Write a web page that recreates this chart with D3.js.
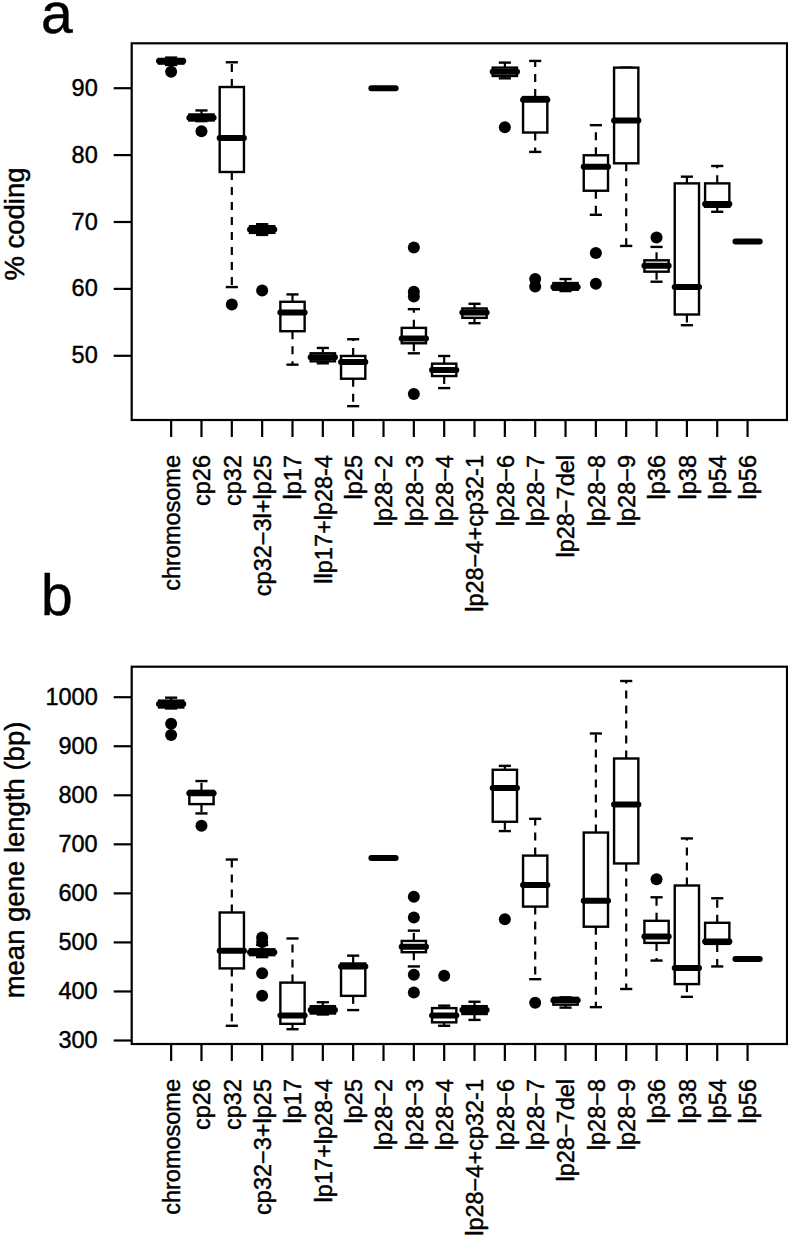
<!DOCTYPE html>
<html>
<head>
<meta charset="utf-8">
<script src="https://cdn.jsdelivr.net/npm/d3@7"></script>
<style>
  html, body { margin: 0; padding: 0; background: #fff; }
  svg { display: block; }
  text { font-family: "Liberation Sans", Arial, Helvetica, sans-serif; fill: #000; stroke: #000; stroke-width: 0.45px; }
</style>
</head>
<body>
<svg id="chart" width="788" height="1237"></svg>
<script>
// ---------- data ----------
const categoriesA = ["chromosome","cp26","cp32","cp32\u22123l+lp25","lp17","llp17+lp28-4","lp25","lp28\u22122","lp28\u22123","lp28\u22124","lp28\u22124+cp32-1","lp28\u22126","lp28\u22127","lp28\u22127del","lp28\u22128","lp28\u22129","lp36","lp38","lp54","lp56"];
const categoriesB = ["chromosome","cp26","cp32","cp32\u22123+lp25","lp17","lp17+lp28-4","lp25","lp28\u22122","lp28\u22123","lp28\u22124","lp28\u22124+cp32-1","lp28\u22126","lp28\u22127","lp28\u22127del","lp28\u22128","lp28\u22129","lp36","lp38","lp54","lp56"];

// panel a: % coding
const codingLow    = [93.4, 85.0, 60.2, 68.0, 48.6, 48.8, 42.4, 89.9, 50.3, 45.1, 54.8, 91.4, 80.4, 59.6, 71.0, 66.35, 61.0, 54.5, 71.45, 67.0];
const codingQ1     = [93.6, 85.1, 77.4, 68.3, 53.6, 49.1, 46.5, 89.9, 51.8, 46.9, 55.6, 91.75, 83.3, 59.8, 74.6, 78.7, 62.5, 56.1, 72.2, 67.0];
const codingMedian = [94.0, 85.5, 82.5, 68.8, 56.4, 49.7, 49.0, 89.9, 52.5, 47.8, 56.4, 92.4, 88.2, 60.2, 78.2, 85.1, 63.4, 60.2, 72.6, 67.0];
const codingQ3     = [94.3, 86.0, 90.1, 69.3, 58.0, 50.3, 49.9, 89.9, 54.1, 48.75, 57.0, 93.0, 88.6, 60.8, 79.9, 93.0, 64.2, 75.7, 75.7, 67.0];
const codingHigh   = [94.5, 86.6, 93.8, 69.6, 59.1, 51.1, 52.4, 89.9, 56.9, 49.9, 57.7, 93.75, 94.0, 61.4, 84.4, 93.0, 66.2, 76.7, 78.3, 67.0];
const codingOutliers = [[92.4],[83.5],[57.6],[59.7],[],[],[],[],[66.1,59.5,58.8,44.2],[],[],[84.1],[61.4,60.3],[],[65.3,60.7],[],[67.6],[],[],[]];
const codingTicks = [50, 60, 70, 80, 90];

// panel b: mean gene length (bp)
const lengthLow    = [976, 762, 329, 469, 322, 352, 361, 671, 450, 329, 341, 726, 424, 366, 367, 404, 462, 388, 450, 465];
const lengthQ1     = [978, 781, 446, 473, 333, 354, 390, 671, 479, 336, 353, 745, 572, 372, 531, 660, 498, 414, 496, 465];
const lengthMedian = [985, 803, 482, 479, 350, 361, 450, 671, 490, 350, 361, 814, 616, 381, 584, 780, 511, 447, 501, 465];
const lengthQ3     = [992, 808, 560, 485, 417, 369, 456, 671, 502, 365, 369, 851, 676, 386, 723, 874, 543, 615, 539, 465];
const lengthHigh   = [998, 828, 668, 494, 507, 377, 472, 671, 523, 370, 378, 859, 751, 387, 925, 1032, 591, 711, 589, 465];
const lengthOutliers = [[945,922],[737],[],[509,500,436,390],[],[],[],[],[592,550,433,397],[431],[],[546],[376],[],[],[],[628],[],[],[]];
const lengthTicks = [300, 400, 500, 600, 700, 800, 900, 1000];

// ---------- drawing ----------
const svg = d3.select("#chart");
svg.append("rect").attr("width", 788).attr("height", 1237).attr("fill", "#fff");

const LEFT = 131.7, RIGHT = 787;
const TICK_FS = 23.5, TITLE_FS = 27.5;

function drawPanel(cfg) {
  const n = cfg.categories.length;
  const x = d3.scaleLinear().domain([1 - 0.5 - 0.04 * n, n + 0.5 + 0.04 * n]).range([LEFT, RIGHT]);
  const y = d3.scaleLinear().domain(cfg.tickDomain).range(cfg.tickRange);
  const g = svg.append("g");
  const unit = x(2) - x(1);
  const bw = unit * 0.8;
  const capW = bw * 0.5;

  // boxes
  cfg.categories.forEach((c, i) => {
    const cx = x(i + 1);
    const lo = cfg.low[i], q1 = cfg.q1[i], md = cfg.med[i], q3 = cfg.q3[i], hi = cfg.high[i];
    const bg = g.append("g");
    // whiskers (dashed)
    bg.append("line").attr("x1", cx).attr("x2", cx).attr("y1", y(q3)).attr("y2", y(hi))
      .attr("stroke", "#000").attr("stroke-width", 2.2).attr("stroke-dasharray", "8,7");
    bg.append("line").attr("x1", cx).attr("x2", cx).attr("y1", y(q1)).attr("y2", y(lo))
      .attr("stroke", "#000").attr("stroke-width", 2.2).attr("stroke-dasharray", "8,7");
    // staples
    [lo, hi].forEach(v => {
      bg.append("line").attr("x1", cx - capW / 2).attr("x2", cx + capW / 2).attr("y1", y(v)).attr("y2", y(v))
        .attr("stroke", "#000").attr("stroke-width", 2.4);
    });
    // box
    bg.append("rect").attr("x", cx - bw / 2).attr("width", bw)
      .attr("y", y(q3)).attr("height", Math.max(0, y(q1) - y(q3)))
      .attr("fill", "#fff").attr("stroke", "#000").attr("stroke-width", 2.4);
    // median
    bg.append("line").attr("x1", cx - bw / 2).attr("x2", cx + bw / 2).attr("y1", y(md)).attr("y2", y(md))
      .attr("stroke", "#000").attr("stroke-width", 6).attr("stroke-linecap", "round");
    // outliers
    cfg.outliers[i].forEach(v => {
      bg.append("circle").attr("cx", cx).attr("cy", y(v)).attr("r", 6).attr("fill", "#000");
    });
  });

  // frame
  g.append("rect").attr("x", LEFT).attr("y", cfg.top).attr("width", RIGHT - LEFT).attr("height", cfg.bottom - cfg.top)
    .attr("fill", "none").attr("stroke", "#000").attr("stroke-width", 2.2);

  // y axis
  const yAxis = d3.axisLeft(y).tickValues(cfg.ticks).tickSize(18).tickPadding(16).tickFormat(d3.format("d"));
  const ya = g.append("g").attr("transform", `translate(${LEFT},0)`).call(yAxis);
  ya.select(".domain").remove();
  ya.selectAll(".tick line").attr("stroke", "#000").attr("stroke-width", 2.2);
  ya.selectAll(".tick text").attr("font-size", TICK_FS).attr("font-family", "Liberation Sans, Arial, sans-serif").attr("fill", "#000");

  // x axis ticks
  const xa = g.append("g");
  cfg.categories.forEach((c, i) => {
    const cx = x(i + 1);
    xa.append("line").attr("x1", cx).attr("x2", cx).attr("y1", cfg.bottom).attr("y2", cfg.bottom + 17)
      .attr("stroke", "#000").attr("stroke-width", 2.2);
    xa.append("text")
      .attr("transform", `translate(${cx},${cfg.bottom + 35}) rotate(-90)`)
      .attr("text-anchor", "end").attr("dy", "0.37em")
      .attr("font-size", TICK_FS).text(c);
  });

  // y title
  g.append("text")
    .attr("transform", `translate(24,${cfg.titleY}) rotate(-90)`)
    .attr("text-anchor", "middle").attr("font-size", TITLE_FS).text(cfg.title);

  // panel letter
  g.append("text").attr("x", 41).attr("y", cfg.letterY).attr("font-size", 57).text(cfg.letter);
}

drawPanel({
  categories: categoriesA, low: codingLow, q1: codingQ1, med: codingMedian, q3: codingQ3, high: codingHigh,
  outliers: codingOutliers, ticks: codingTicks,
  tickDomain: [50, 90], tickRange: [355.3, 87.7],
  top: 43.3, bottom: 420, title: "% coding", titleY: 224, letter: "a", letterY: 32.5
});

drawPanel({
  categories: categoriesB, low: lengthLow, q1: lengthQ1, med: lengthMedian, q3: lengthQ3, high: lengthHigh,
  outliers: lengthOutliers, ticks: lengthTicks,
  tickDomain: [300, 1000], tickRange: [1040, 696.7],
  top: 666.7, bottom: 1044, title: "mean gene length (bp)", titleY: 860, letter: "b", letterY: 615
});
</script>
</body>
</html>
